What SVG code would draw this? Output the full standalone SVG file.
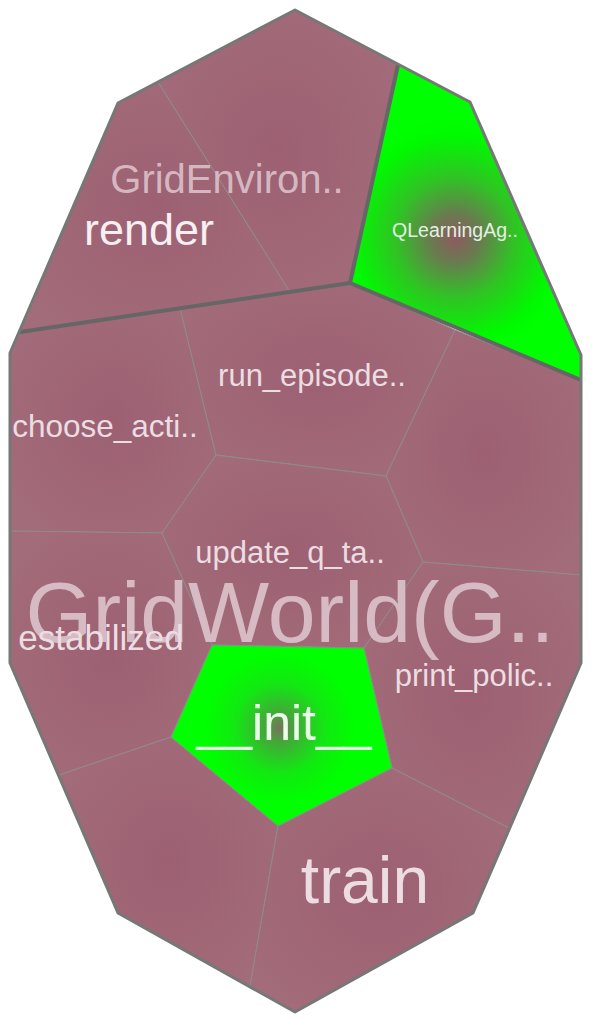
<svg xmlns="http://www.w3.org/2000/svg" width="592" height="1020" viewBox="0 0 592 1020">
<defs>
<radialGradient id="mauve" cx="0.5" cy="0.5" r="0.6">
<stop offset="0" stop-color="#9c6072"/>
<stop offset="1" stop-color="#a36c7a"/>
</radialGradient>
<radialGradient id="greenQ" gradientUnits="userSpaceOnUse" cx="455" cy="238" r="120">
<stop offset="0" stop-color="#8d5a62"/>
<stop offset="0.2" stop-color="#6a7a50"/>
<stop offset="0.5" stop-color="#30c324"/>
<stop offset="0.85" stop-color="#00fa00"/>
<stop offset="1" stop-color="#00ff00"/>
</radialGradient>
<radialGradient id="greenI" gradientUnits="userSpaceOnUse" cx="280" cy="728" r="75">
<stop offset="0" stop-color="#7a7060"/>
<stop offset="0.2" stop-color="#44a83a"/>
<stop offset="0.6" stop-color="#12e812"/>
<stop offset="1" stop-color="#00ff00"/>
</radialGradient>
<style>
.cell{fill:url(#mauve);stroke:#8e8a8c;stroke-width:1}
.grp{fill:none;stroke:#666;stroke-width:4;stroke-linejoin:round}
.outer{fill:none;stroke:#777;stroke-width:3;stroke-linejoin:round}
text{font-family:"Liberation Sans",Arial,sans-serif;text-anchor:middle}
.glabel{fill:#dcc4cc;fill-opacity:0.9}
.clabel{fill:#ecdde3}
</style>
</defs>

<g id="GridEnvironment">
<g id="render">
<polygon class="cell" points="118,103 158,82 290,292 20,332"/>
</g>
<g id="GridEnvironment-cell2">
<polygon class="cell" points="158,82 295,10 398,65 350,283 290,292"/>
</g>
</g>

<g id="QLearningAgent">
<polygon points="398,65 470,102 581,355 581,380 350,283" fill="url(#greenQ)" stroke="#8e8a8c" stroke-width="1"/>
</g>

<g id="GridWorld">
<g id="choose_action"><polygon class="cell" points="20,332 180,308 216,455 162,533 10,531 10,353"/></g>
<g id="run_episode"><polygon class="cell" points="180,308 350,283 455,330 386,476 216,455"/></g>
<g id="GridWorld-cell3"><polygon class="cell" points="455,330 581,380 581,575 423,562 386,476"/></g>
<g id="update_q_table"><polygon class="cell" points="216,455 386,476 423,562 364,648 212,645 162,533"/></g>
<g id="estabilized"><polygon class="cell" points="10,531 162,533 212,645 171,737 59,775 10,663"/></g>
<g id="print_policy"><polygon class="cell" points="423,562 581,575 581,663 509,828 392,768 364,648"/></g>
<g id="GridWorld-cell8"><polygon class="cell" points="59,775 171,737 278,826 250,986 118,913"/></g>
<g id="train"><polygon class="cell" points="278,826 392,768 509,828 473,913 295,1012 250,986"/></g>
<g id="init"><polygon points="212,645 364,648 392,768 278,826 171,737" fill="url(#greenI)" stroke="#8e8a8c" stroke-width="1"/></g>
</g>

<g id="connectors">
<polyline class="grp" points="20,332 350,283 581,380"/>
<line class="grp" x1="398" y1="65" x2="350" y2="283"/>
<polygon class="outer" points="295,10 470,102 581,355 581,663 473,913 295,1012 118,913 10,663 10,353 118,103"/>
</g>

<g id="labels">
<text class="glabel" x="227" y="193" font-size="40">GridEnviron..</text>
<text x="149" y="245" font-size="45" fill="#f7eff2">render</text>
<text x="455" y="237" font-size="19.5" fill="#e2f2e2">QLearningAg..</text>
<text class="clabel" x="312" y="386" font-size="31">run_episode..</text>
<text class="clabel" x="105" y="437" font-size="31.5">choose_acti..</text>
<text class="clabel" x="290" y="563" font-size="31">update_q_ta..</text>
<text class="glabel" x="290" y="642" font-size="86">GridWorld(G..</text>
<text class="clabel" x="101" y="650" font-size="35">estabilized</text>
<text class="clabel" x="474" y="686" font-size="31">print_polic..</text>
<text x="284" y="740" font-size="50" fill="#eaffea">__init__</text>
<text class="clabel" x="365" y="903" font-size="66">train</text>
</g>
</svg>
